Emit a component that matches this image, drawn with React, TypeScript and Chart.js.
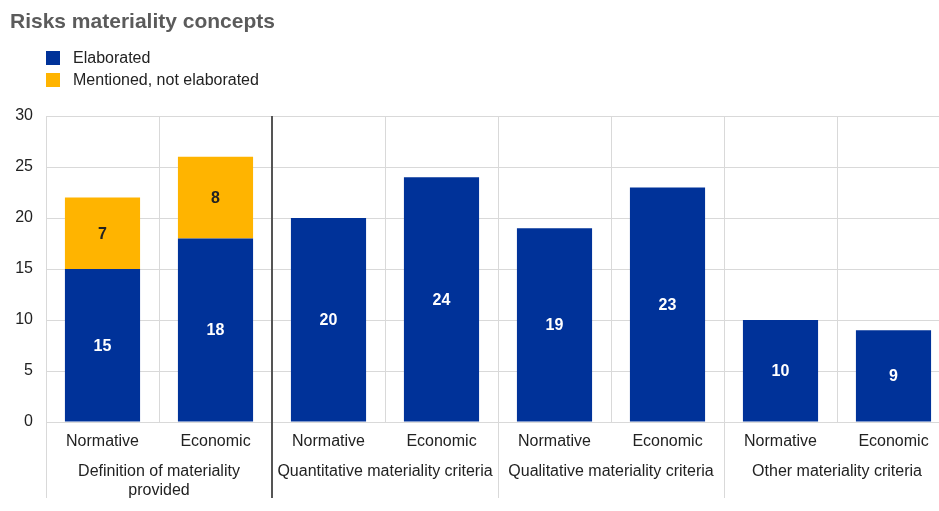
import React, { useEffect, useRef } from "react";
import { Chart, registerables } from "chart.js";

Chart.register(...registerables);

const titleText = "Risks materiality concepts";
const categories = ["Normative", "Economic", "Normative", "Economic", "Normative", "Economic", "Normative", "Economic"];
const groupLabels = [
  ["Definition of materiality", "provided"],
  ["Quantitative materiality criteria"],
  ["Qualitative materiality criteria"],
  ["Other materiality criteria"],
];
const groupSize = 2;
const elaborated = [15, 18, 20, 24, 19, 23, 10, 9];
const mentioned = [7, 8, null, null, null, null, null, null];
const seriesNames = ["Elaborated", "Mentioned, not elaborated"];
const seriesColors = ["#003299", "#FFB400"];
const labelColors = ["#ffffff", "#222222"];
const yTicks = [0, 5, 10, 15, 20, 25, 30];

const FONT = "'Liberation Sans', Arial, Helvetica, sans-serif";

const customPlugin = {
  id: "custom",
  afterDraw(chart: any) {
    const ctx = chart.ctx;
    const x = chart.scales.x;
    const area = chart.chartArea;
    ctx.save();
    // title
    ctx.font = `bold 21px ${FONT}`;
    ctx.fillStyle = "#5b5b5b";
    ctx.textAlign = "left";
    ctx.textBaseline = "middle";
    ctx.fillText(titleText, 10, 22);
    // legend
    ctx.font = `16px ${FONT}`;
    chart.data.datasets.forEach((ds: any, i: number) => {
      const cy = 58 + i * 22;
      ctx.fillStyle = ds.backgroundColor;
      ctx.fillRect(46, cy - 7, 14, 14);
      ctx.fillStyle = "#222222";
      ctx.fillText(ds.label, 73, cy + 1);
    });
    // data labels
    ctx.font = `bold 16px ${FONT}`;
    ctx.textAlign = "center";
    chart.data.datasets.forEach((ds: any, di: number) => {
      const meta = chart.getDatasetMeta(di);
      meta.data.forEach((bar: any, i: number) => {
        const v = ds.data[i];
        if (v === null || v === undefined) return;
        const cy = (bar.y + bar.base) / 2;
        ctx.fillStyle = labelColors[di];
        ctx.fillText(String(v), bar.x, cy + 1);
      });
    });
    // group boundaries and labels
    const step = x.getPixelForValue(1) - x.getPixelForValue(0);
    const bottom = 498;
    groupLabels.forEach((lines, g) => {
      const left = x.getPixelForValue(g * groupSize) - step / 2;
      const right = left + step * groupSize;
      if (g === 1) {
        ctx.strokeStyle = "#555555";
        ctx.lineWidth = 2;
        ctx.beginPath();
        ctx.moveTo(left, area.top);
        ctx.lineTo(left, bottom);
        ctx.stroke();
      } else {
        ctx.strokeStyle = "#d9d9d9";
        ctx.lineWidth = 1;
        ctx.beginPath();
        ctx.moveTo(Math.round(left) + 0.5, area.bottom);
        ctx.lineTo(Math.round(left) + 0.5, bottom);
        ctx.stroke();
      }
      ctx.font = `16px ${FONT}`;
      ctx.fillStyle = "#222222";
      ctx.textAlign = "center";
      ctx.textBaseline = "middle";
      lines.forEach((ln, li) => {
        ctx.fillText(ln, (left + right) / 2, 472 + li * 19);
      });
    });
    ctx.restore();
  },
};

export default function App() {
  const ref = useRef<HTMLCanvasElement>(null);
  useEffect(() => {
    const canvas = ref.current;
    if (!canvas) return;
    const chart = new Chart(canvas, {
      type: "bar",
      data: {
        labels: categories,
        datasets: [
          { label: seriesNames[0], data: elaborated, backgroundColor: seriesColors[0], borderWidth: 0 },
          { label: seriesNames[1], data: mentioned as any, backgroundColor: seriesColors[1], borderWidth: 0 },
        ],
      },
      options: {
        responsive: false,
        animation: false,
        devicePixelRatio: 1,
        layout: { padding: { top: 116, right: 10, left: 0, bottom: 0 } },
        datasets: { bar: { categoryPercentage: 1, barPercentage: 0.665 } },
        plugins: { legend: { display: false }, title: { display: false }, tooltip: { enabled: false } },
        scales: {
          x: {
            stacked: true,
            offset: true,
            grid: { offset: true, color: "#d9d9d9", drawTicks: false },
            border: { color: "#d9d9d9" },
            ticks: { font: { family: FONT, size: 16 }, color: "#222222", padding: 10, maxRotation: 0, autoSkip: false },
            afterFit: (s: any) => { s.height = 89; },
          },
          y: {
            stacked: true,
            min: 0,
            max: 30,
            afterBuildTicks: (s: any) => { s.ticks = yTicks.map((v) => ({ value: v })); },
            grid: { color: "#d9d9d9", drawTicks: false },
            border: { color: "#d9d9d9" },
            ticks: { font: { family: FONT, size: 16 }, color: "#222222", padding: 13 },
            afterFit: (s: any) => { s.width = 46; },
          },
        },
      },
      plugins: [customPlugin],
    });
    return () => chart.destroy();
  }, []);
  return (
    <div style={{ position: "fixed", left: 0, top: 0, width: 939, height: 511, overflow: "hidden", background: "#fff" }}>
      <canvas ref={ref} width={960} height={511} style={{ display: "block" }} />
    </div>
  );
}
